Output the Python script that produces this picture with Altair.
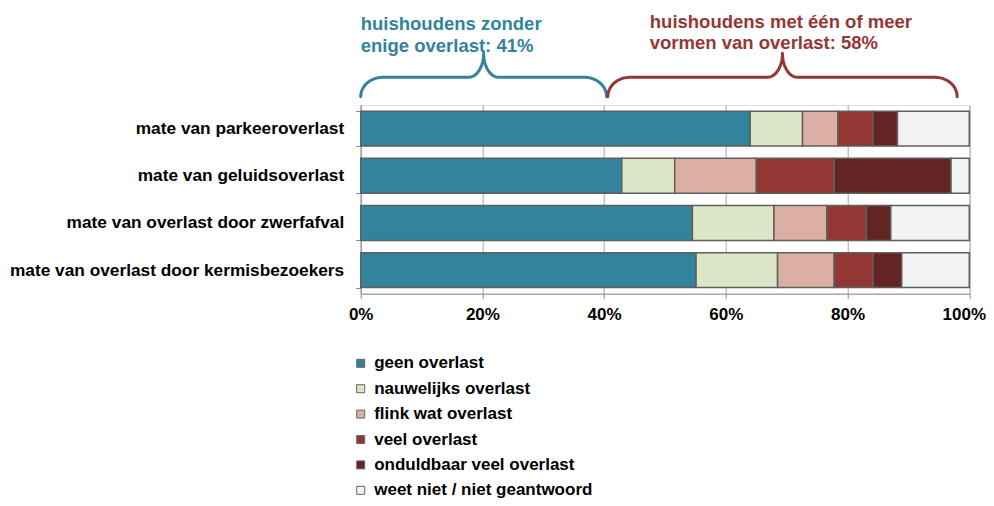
import altair as alt
import pandas as pd
import numpy as np

# ---- data ----
categories = [
    "mate van parkeeroverlast",
    "mate van geluidsoverlast",
    "mate van overlast door zwerfafval",
    "mate van overlast door kermisbezoekers",
]
levels = [
    "geen overlast",
    "nauwelijks overlast",
    "flink wat overlast",
    "veel overlast",
    "onduldbaar veel overlast",
    "weet niet / niet geantwoord",
]
colors = ["#31849B", "#DDE6C6", "#DBAFA3", "#943634", "#632523", "#F2F2F2"]

geen = [64.0, 42.9, 54.5, 55.1]
nauwelijks = [8.6, 8.7, 13.4, 13.4]
flink = [5.8, 13.4, 8.7, 9.3]
veel = [5.8, 12.8, 6.5, 6.4]
onduldbaar = [4.0, 19.2, 4.0, 4.7]
weet = [11.8, 3.0, 12.9, 11.1]

tick_values = [0, 20, 40, 60, 80, 100]

brace_labels = [
    ["huishoudens zonder", "enige overlast: 41%"],
    ["huishoudens met één of meer", "vormen van overlast: 58%"],
]
brace_colors = ["#31849B", "#953735"]
brace_start = [0.0, 40.6]
brace_end = [40.4, 98.0]
label_x = [0.0, 47.5]

# ---- layout ----
W = 608.6
H = 188.7
PAD_L, PAD_T = 352.7, 97.0
PAD_R = 978 - PAD_L - W
PAD_B = 490 - PAD_T - H
FONT = "Liberation Sans"

series = [geen, nauwelijks, flink, veel, onduldbaar, weet]
rows = []
for li, (lvl, vals) in enumerate(zip(levels, series)):
    for ci, cat in enumerate(categories):
        rows.append({"cat": cat, "lvl": lvl, "order": li, "value": vals[ci]})
df = pd.DataFrame(rows)

# brace geometry (built from span endpoints in data units)
pxpp = W / 100.0


def brace(x0, x1, yb=-8.3, yh=-27.7, yp=-51.7, rx=22.0, rx2=15.0):
    X0, X1 = x0 * pxpp, x1 * pxpp
    xm = (X0 + X1) / 2
    t = np.linspace(0, np.pi / 2, 14)
    left = [(X0 + rx - rx * np.cos(a), yb - (yb - yh) * np.sin(a)) for a in t]
    mid = [(xm - rx2 + rx2 * np.sin(a), yp + (yh - yp) * np.cos(a)) for a in t]
    pts = left + mid
    pts += [(2 * xm - x, y) for x, y in reversed(pts)]
    return pts


brace_rows = []
for bi in range(2):
    for i, (x, y) in enumerate(brace(brace_start[bi], brace_end[bi])):
        brace_rows.append({"b": bi, "i": i, "x": x / pxpp, "y": y})
bdf = pd.DataFrame(brace_rows)

text_rows = []
ybase = [[-75.0, -53.0], [-77.3, -55.7]]
for bi in range(2):
    for li, line in enumerate(brace_labels[bi]):
        text_rows.append({"b": bi, "x": label_x[bi], "y": ybase[bi][li], "t": line})
tdf = pd.DataFrame(text_rows)

xscale = alt.Scale(domain=[0, 100], nice=False, zero=True)
xaxis = alt.Axis(
    values=tick_values,
    labelExpr="datum.value + '%'",
    title=None,
    grid=True,
    gridColor="#a6a6a6",
    gridWidth=1,
    domainColor="#8c8c8c",
    tickColor="#8c8c8c",
    tickSize=5,
    labelPadding=8,
    labelFlush=False,
    labelOffset={"condition": {"test": "datum.value == 100", "value": -5.5}, "value": 0},
    labelFontSize=17,
    labelFontWeight="bold",
    labelColor="#000000",
    labelFont=FONT,
)

bars = alt.Chart(df).mark_bar(stroke="#5f5f5f", strokeWidth=1.5).encode(
    x=alt.X("value:Q", stack="zero", scale=xscale, axis=xaxis),
    y=alt.Y(
        "cat:N",
        sort=categories,
        scale=alt.Scale(paddingInner=0.26, paddingOuter=0.13),
        axis=alt.Axis(
            title=None,
            tickBand="extent",
            tickSize=5,
            tickColor="#8c8c8c",
            domainColor="#8c8c8c",
            labelPadding=12,
            labelFontSize=17.3,
            labelFontWeight="bold",
            labelColor="#000000",
            labelFont=FONT,
            labelLimit=400,
        ),
    ),
    color=alt.Color(
        "lvl:N",
        scale=alt.Scale(domain=levels, range=colors),
        legend=alt.Legend(
            title=None,
            orient="none",
            legendX=-8.5,
            legendY=249.8,
            direction="vertical",
            symbolType="square",
            symbolSize=64,
            symbolStrokeColor="#666666",
            symbolStrokeWidth=1,
            labelFontSize=17,
            labelFontWeight="bold",
            labelFont=FONT,
            labelColor="#000000",
            labelOffset=5,
            rowPadding=7.4,
            padding=0,
            labelLimit=400,
        ),
    ),
    order=alt.Order("order:Q"),
)

layers = [bars]
for bi in range(2):
    line = alt.Chart(bdf[bdf.b == bi]).mark_line(
        color=brace_colors[bi], strokeWidth=3, strokeCap="round", strokeJoin="round"
    ).encode(
        x=alt.X("x:Q", scale=xscale, axis=xaxis),
        y=alt.Y("y:Q", scale=None, axis=None),
        order=alt.Order("i:Q"),
    )
    txt = alt.Chart(tdf[tdf.b == bi]).mark_text(
        align="left", baseline="alphabetic", fontSize=18.5, fontWeight="bold",
        font=FONT, color=brace_colors[bi],
    ).encode(
        x=alt.X("x:Q", scale=xscale, axis=xaxis),
        y=alt.Y("y:Q", scale=None, axis=None),
        text="t:N",
    )
    layers += [line, txt]

chart = alt.layer(*layers).resolve_scale(y="independent").properties(
    width=W,
    height=H,
    autosize=alt.AutoSizeParams(type="none"),
    padding={"left": PAD_L, "top": PAD_T, "right": PAD_R, "bottom": PAD_B},
).configure_view(stroke=None).configure(font=FONT, background="white")

chart.save("out.html", embed_options={"renderer": "svg", "actions": False})
